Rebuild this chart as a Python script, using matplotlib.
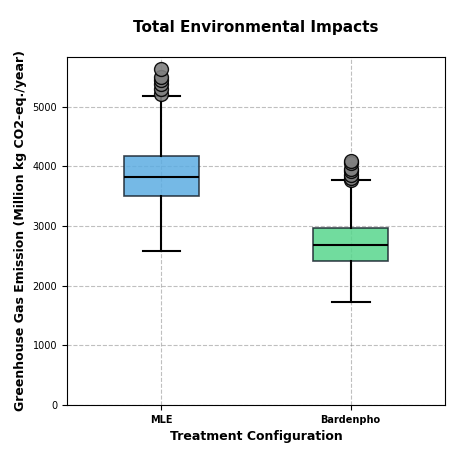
import matplotlib
matplotlib.use("Agg")
import matplotlib.pyplot as plt

labels = ["MLE", "Bardenpho"]
whislo = [2580, 1720]
q1 = [3500, 2420]
med = [3830, 2690]
q3 = [4180, 2960]
whishi = [5180, 3780]
fliers = [[5210, 5300, 5390, 5450, 5500, 5630], [3770, 3800, 3850, 3920, 3960, 4050, 4090]]
colors = ["#5DADE2", "#58D68D"]

stats = [dict(label=l, whislo=a, q1=b, med=c, q3=d, whishi=e, fliers=f)
         for l, a, b, c, d, e, f in zip(labels, whislo, q1, med, q3, whishi, fliers)]

fig, ax = plt.subplots(figsize=(4.58, 4.58), dpi=100)
bp = ax.bxp(stats, widths=0.4, patch_artist=True,
            medianprops=dict(color="black", linewidth=1.5),
            whiskerprops=dict(color="black", linewidth=1.5),
            capprops=dict(color="black", linewidth=1.5),
            flierprops=dict(marker="o", markerfacecolor="gray", markeredgecolor="black",
                            markersize=10, alpha=0.9))
for p, c in zip(bp["boxes"], colors):
    p.set_facecolor(c); p.set_alpha(0.85); p.set_edgecolor("#1b2631"); p.set_linewidth(1.2)
ax.set_xlim(0.5, 2.5)
ax.set_ylim(0, 5840)
ax.grid(True, linestyle="--", color="gray", alpha=0.5)
ax.set_axisbelow(True)
ax.tick_params(axis="both", labelsize=7)
for t in ax.get_xticklabels():
    t.set_fontweight("bold")
ax.set_title("Total Environmental Impacts", fontsize=11, fontweight="bold", pad=18)
ax.set_xlabel("Treatment Configuration", fontsize=9, fontweight="bold")
ax.set_ylabel("Greenhouse Gas Emission (Million kg CO2-eq./year)", fontsize=9, fontweight="bold")
fig.subplots_adjust(left=0.146, right=0.972, top=0.876, bottom=0.116)
fig.savefig("out.png", dpi=100)
